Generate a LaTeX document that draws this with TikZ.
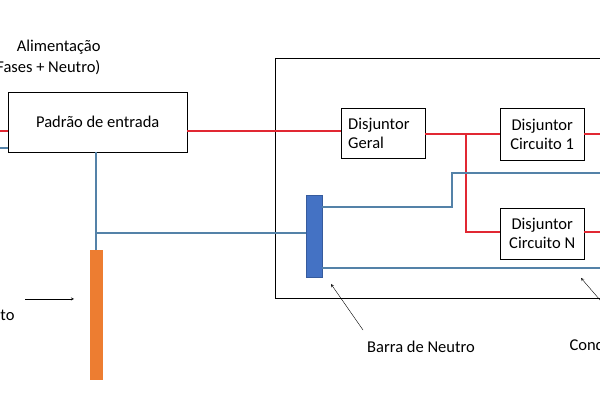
\documentclass[tikz,border=0pt]{standalone}
\usepackage{fontspec}
\setmainfont{Carlito}
\usetikzlibrary{positioning}
\definecolor{corfase}{RGB}{225,40,50}
\definecolor{corneutro}{RGB}{84,130,168}
\definecolor{corbarra}{RGB}{68,114,196}
\definecolor{corhaste}{RGB}{237,125,49}
\tikzset{
    caixa/.style={draw=black, rectangle, align=left, font=\fontsize{16.5}{19}\selectfont},
    fase/.style={draw=corfase, line width=1.4pt},
    neutro/.style={draw=corneutro, line width=1.4pt},
    rotulo/.style={font=\fontsize{16.5}{20}\selectfont}
}
\begin{document}
\begin{tikzpicture}[x=1pt, y=-1pt]
        \useasboundingbox (0,0) rectangle (600,403);
        \node[caixa, minimum width=179pt, minimum height=60pt, anchor=north west] (P) at (8,92) {Padrão de entrada};
        \draw[black] (275,58) -- (610,58);
        \draw[black] (275,58) -- (275,298) -- (610,298);
        \node[caixa, minimum width=84pt, minimum height=50pt, anchor=north west, text width=70pt] (G) at (341,108) {Disjuntor\\Geral};
        \node[caixa, minimum width=84pt, minimum height=52pt, anchor=north west, align=center] (C1) at (500,108) {Disjuntor\\Circuito 1};
        \node[caixa, minimum width=84pt, minimum height=51pt, anchor=north west, align=center] (CN) at (500,208) {Disjuntor\\Circuito N};
        \node[draw=corbarra!80!black, fill=corbarra, minimum width=16pt, minimum height=82pt, anchor=north west, inner sep=0pt] (B) at (306,195) {};
        \node[fill=corhaste, minimum width=13pt, minimum height=130pt, anchor=north west, inner sep=0pt] (H) at (90,250) {};

        % niveis
        \coordinate (f1) at (0,131);
        \coordinate (f2) at (466,134);
        \coordinate (f3) at (466,232);
        \coordinate (n0) at (0,148);
        \coordinate (n1) at (96,233);
        \coordinate (n2) at (452,207);
        \coordinate (n3) at (452,173);
        \coordinate (n4) at (610,268);

        % fases
        \draw[fase] (f1) -- (P.west |- f1);
        \draw[fase] (P.east |- f1) -- (G.west |- f1);
        \draw[fase] (G.east |- f2) -- (C1.west |- f2);
        \draw[fase] (f2) -- (f3) -- (CN.west |- f3);
        \draw[fase] (C1.east |- f2) -- ++(30,0);
        \draw[fase] (CN.east |- f3) -- ++(30,0);

        % neutro
        \draw[neutro] (n0) -- (P.west |- n0);
        \draw[neutro] (P.south -| n1) -- (H.north -| n1);
        \draw[neutro] (n1) -- (B.west |- n1);
        \draw[neutro] (B.east |- n2) -- (n2) -- (n3) -- ++(160,0);
        \draw[neutro] (B.east |- n4) -- (n4);

        % rotulos
        \node[rotulo, anchor=east] (A1) at (104,47) {Alimentação};
        \node[rotulo, anchor=east] (A2) at (104,68) {(Fases + Neutro)};
        \node[rotulo, anchor=east] (T) at (18,315) {Aterramento};
        \node[rotulo] (N) at (421,347) {Barra de Neutro};
        \node[rotulo, anchor=west] (CD) at (566,345) {Condutor Neutro};
        \coordinate (t1) at (25,299);
        \coordinate (t2) at (74,299);
        \coordinate (b1) at (363,330);
        \coordinate (b2) at (331,284);
        \coordinate (c1) at (600,300);
        \coordinate (c2) at (581,278);
        \draw[->, >=stealth] (t1) -- (t2);
        \draw[->, >=stealth] (b1) -- (b2);
        \draw[->, >=stealth] (c1) -- (c2);
    \end{tikzpicture}
\end{document}
